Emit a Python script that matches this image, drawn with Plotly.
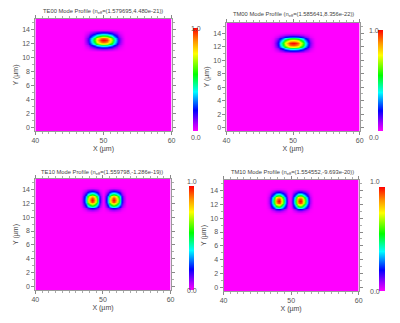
import numpy as np
import plotly.graph_objects as go

# Simulation window (µm) and field sampling step
x_min, x_max = 40.0, 60.0
y_min, y_max = -0.5, 15.5
step = 0.25

# Mode names and effective indices
mode_names = ["TE00", "TM00", "TE10", "TM10"]
neff_labels = ["(1.579695,4.480e-21)", "(1.585641,8.356e-22)",
               "(1.559798,-1.286e-19)", "(1.554552,-9.693e-20)"]

# Normalised intensity cuts through each mode, sampled every 0.25 µm.
# Horizontal cuts begin at x_starts, vertical cuts at y_starts.
te00_xcut = [0.01, 0.04, 0.09, 0.16, 0.26, 0.38, 0.51, 0.64, 0.76, 0.86, 0.94, 0.98, 1.0,
             0.98, 0.94, 0.86, 0.76, 0.64, 0.51, 0.38, 0.26, 0.16, 0.09, 0.04, 0.01]
tm00_xcut = [0.01, 0.03, 0.07, 0.13, 0.22, 0.33, 0.45, 0.58, 0.70, 0.81, 0.90, 0.96, 0.99, 1.0,
             0.99, 0.96, 0.90, 0.81, 0.70, 0.58, 0.45, 0.33, 0.22, 0.13, 0.07, 0.03, 0.01]
te10_xcut = [0.0, 0.03, 0.09, 0.22, 0.42, 0.64, 0.84, 0.97, 1.0, 0.88, 0.68, 0.42, 0.20, 0.06,
             0.0,
             0.06, 0.20, 0.42, 0.68, 0.88, 1.0, 0.97, 0.84, 0.64, 0.42, 0.22, 0.09, 0.03, 0.0]
tm10_xcut = [0.0, 0.03, 0.09, 0.22, 0.42, 0.64, 0.84, 0.97, 1.0, 0.88, 0.68, 0.42, 0.20, 0.06,
             0.0,
             0.06, 0.20, 0.42, 0.68, 0.88, 1.0, 0.97, 0.84, 0.64, 0.42, 0.22, 0.09, 0.03, 0.0]
x_cuts = [te00_xcut, tm00_xcut, te10_xcut, tm10_xcut]
x_starts = [47.0, 46.75, 46.5, 46.25]

te00_ycut = [0.02, 0.10, 0.25, 0.48, 0.72, 0.92, 1.0, 0.92, 0.72, 0.48, 0.25, 0.10, 0.02]
tm00_ycut = [0.02, 0.10, 0.26, 0.50, 0.74, 0.93, 1.0, 0.93, 0.74, 0.50, 0.26, 0.10, 0.02]
te10_ycut = [0.02, 0.08, 0.20, 0.40, 0.62, 0.82, 0.95, 1.0, 0.95, 0.82, 0.62, 0.40, 0.20, 0.08, 0.02]
tm10_ycut = [0.02, 0.08, 0.20, 0.40, 0.62, 0.82, 0.95, 1.0, 0.95, 0.82, 0.62, 0.40, 0.20, 0.08, 0.02]
y_cuts = [te00_ycut, tm00_ycut, te10_ycut, tm10_ycut]
y_starts = [11.0, 11.0, 10.75, 10.75]

x_ticks = [40, 50, 60]
y_ticks = [0, 2, 4, 6, 8, 10, 12, 14]

xs = np.round(np.arange(x_min, x_max + step / 2, step), 3)
ys = np.round(np.arange(y_min, y_max + step / 2, step), 3)


def place(cut, start, grid):
    """Put a sampled cut onto the full grid, zero elsewhere."""
    full = np.zeros(len(grid))
    i0 = int(round((start - grid[0]) / step))
    full[i0:i0 + len(cut)] = cut
    return full


# Rainbow map used for the mode intensity
colorscale = [
    [0.0, "rgb(255,0,255)"],
    [0.08, "rgb(160,0,255)"],
    [0.2, "rgb(0,0,255)"],
    [0.38, "rgb(0,255,255)"],
    [0.55, "rgb(0,255,0)"],
    [0.75, "rgb(255,255,0)"],
    [0.87, "rgb(255,150,0)"],
    [1.0, "rgb(255,0,0)"],
]

# Panel geometry in pixels (400 x 323 canvas): plot box, colour bar box, title position
W, H = 400, 323
plot_boxes = [(32, 171, 19, 131), (227, 363, 23, 131), (32, 170, 179, 290), (224, 362, 180, 291)]
cbar_boxes = [(193, 198, 28, 131), (382, 387, 30, 131), (189, 194, 186, 290), (383, 389, 187, 291)]
title_pos = [(101, 12), (295, 15), (100, 172), (294, 172)]

font = "Liberation Sans, Arial, sans-serif"
grey = "#555555"

fig = go.Figure()
annotations = []
layout = {}

for k in range(4):
    z = np.outer(place(y_cuts[k], y_starts[k], ys), place(x_cuts[k], x_starts[k], xs))
    x0, x1, y0, y1 = plot_boxes[k]
    c0, c1, cy0, cy1 = cbar_boxes[k]
    ax = "" if k == 0 else str(k + 1)

    fig.add_trace(go.Heatmap(
        x=xs, y=ys, z=z, zmin=0, zmax=1, zsmooth="best",
        colorscale=colorscale, xaxis="x" + ax, yaxis="y" + ax,
        colorbar=dict(
            x=c0 / W, xanchor="left", xref="paper", xpad=0, ypad=0,
            y=1 - cy1 / H, yanchor="bottom", yref="paper",
            len=(cy1 - cy0) / H, lenmode="fraction",
            thickness=c1 - c0, thicknessmode="pixels",
            outlinewidth=0, showticklabels=False, ticks="",
        ),
        hoverinfo="skip",
    ))

    axis_title_font = dict(size=7, color="#444444", family=font)
    layout["xaxis" + ax] = dict(
        domain=[x0 / W, x1 / W], range=[x_min, x_max], anchor="y" + ax,
        tickvals=x_ticks, ticks="outside", ticklen=3, tickcolor="#888",
        minor=dict(dtick=1, ticks="outside", ticklen=2, tickcolor="#aaa"),
        showline=True, linecolor="#999", linewidth=1, mirror="ticks",
        showgrid=False, zeroline=False,
        tickfont=dict(size=7, color=grey, family=font),
        title=dict(text="X (µm)", font=axis_title_font, standoff=2),
    )
    layout["yaxis" + ax] = dict(
        domain=[1 - y1 / H, 1 - y0 / H], range=[y_min, y_max], anchor="x" + ax,
        tickvals=y_ticks, ticks="outside", ticklen=3, tickcolor="#888",
        minor=dict(dtick=1, ticks="outside", ticklen=2, tickcolor="#aaa"),
        showline=True, linecolor="#999", linewidth=1, mirror="ticks",
        showgrid=False, zeroline=False,
        tickfont=dict(size=7, color=grey, family=font),
        title=dict(text="Y (µm)", font=axis_title_font, standoff=2),
    )

    tx, ty = title_pos[k]
    annotations.append(dict(
        text=f"{mode_names[k]} Mode Profile (n<sub>eff</sub>={neff_labels[k]})",
        x=tx / W, y=1 - ty / H, xref="paper", yref="paper",
        xanchor="center", yanchor="middle", showarrow=False,
        font=dict(size=5.8, color="#444", family=font),
    ))
    cx = (c0 + c1) / 2 / W
    annotations.append(dict(text="1.0", x=cx, y=1 - (cy0 - 5) / H, xref="paper", yref="paper",
                            showarrow=False, font=dict(size=7, color=grey, family=font)))
    annotations.append(dict(text="0.0", x=cx, y=1 - (cy1 + 6) / H, xref="paper", yref="paper",
                            showarrow=False, font=dict(size=7, color=grey, family=font)))

fig.update_layout(
    width=W, height=H, margin=dict(l=0, r=0, t=0, b=0),
    paper_bgcolor="white", plot_bgcolor="white",
    annotations=annotations, showlegend=False, **layout,
)

fig.write_html("out.html")
